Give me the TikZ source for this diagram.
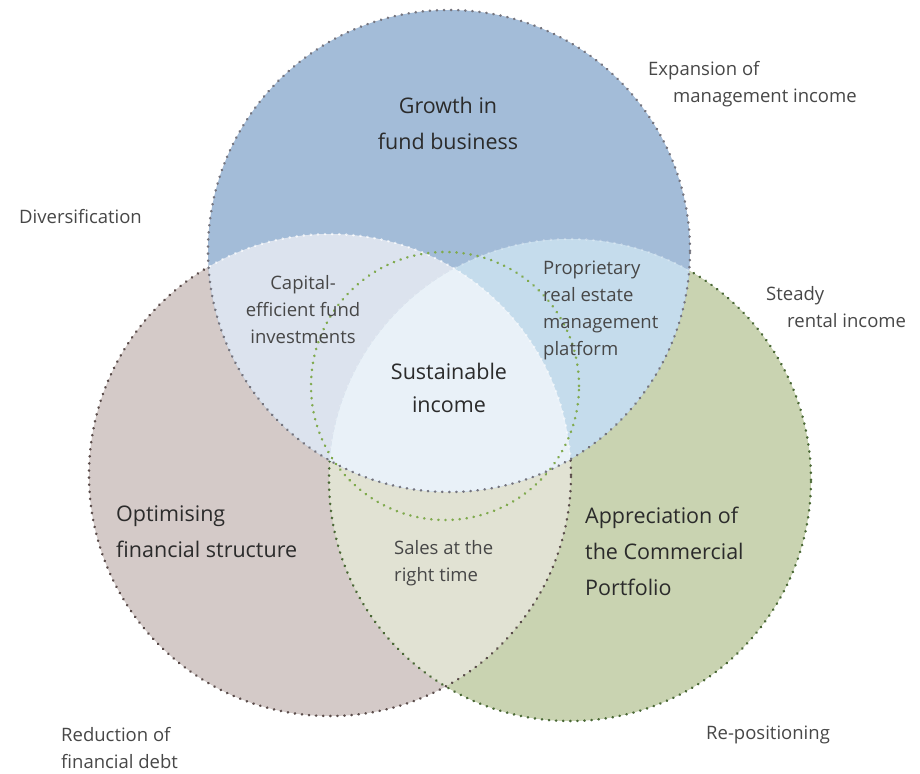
\documentclass[tikz,border=0pt]{standalone}
\usepackage{fontspec}
\setmainfont{Open Sans}
\definecolor{cTop}{HTML}{A3BCD8}
\definecolor{cLeft}{HTML}{D4CAC8}
\definecolor{cRight}{HTML}{C9D3B1}
\definecolor{cTL}{HTML}{DCE3EE}
\definecolor{cTR}{HTML}{C5DCEC}
\definecolor{cLR}{HTML}{E1E2D3}
\definecolor{cAll}{HTML}{E9F1F8}
\definecolor{bTop}{HTML}{74747E}
\definecolor{bLeft}{HTML}{5A4C4A}
\definecolor{bRight}{HTML}{4A6835}
\definecolor{bInner}{HTML}{80AA4E}
\definecolor{tHead}{HTML}{2B2B2B}
\definecolor{tBody}{HTML}{474747}
\begin{document}
\begin{tikzpicture}[x=1pt,y=-1pt,
  dotline/.style={line width=2.6pt,line cap=round,dash pattern=on 0.3pt off 6.8pt},
  head/.style={inner sep=0pt,text=tHead,font=\fontsize{21.5}{36}\selectfont},
  body/.style={inner sep=0pt,text=tBody,font=\fontsize{18.5}{27}\selectfont}]
\useasboundingbox (0,0) rectangle (920,773);
\def\circT{(449,251) circle[radius=241pt]}
\def\circL{(330,475) circle[radius=241pt]}
\def\circR{(570,480) circle[radius=241pt]}
\def\circI{(445,386) circle[radius=134pt]}
% lower circles
\fill[cLeft] \circL;
\fill[cRight] \circR;
\begin{scope}\clip \circL; \fill[cLR] \circR; \end{scope}
\draw[dotline,bLeft] \circL;
\draw[dotline,bRight] \circR;
% top circle and overlaps
\fill[cTop] \circT;
\begin{scope}
  \clip \circT;
  \fill[cTL] \circL;
  \fill[cTR] \circR;
  \draw[dotline,white,opacity=0.6] \circL;
  \draw[dotline,white,opacity=0.3] \circR;
  \clip \circL;
  \fill[cAll] \circR;
  \draw[dotline,white,opacity=0.6] \circL;
\end{scope}
\draw[dotline,bTop] \circT;
\draw[dotline,bInner] \circI;
% texts
\node[head,align=center] (growth) at (448,123) {Growth in\\fund business};
\node[head,align=center,font=\fontsize{21.5}{33}\selectfont] (sust) at (449,388) {Sustainable\\income};
\node[head,align=left,anchor=west] (optim) at (116,532) {Optimising\\financial structure};
\node[head,align=left,anchor=west] (appr) at (585,551) {Appreciation of\\the Commercial\\Portfolio};
\node[body,align=center] (capital) at (303,310) {Capital-\\efficient fund\\investments};
\node[body,align=left,anchor=west] (propr) at (543,310.5) {Proprietary\\real estate\\management\\platform};
\node[body,align=left,anchor=west] (sales) at (394,563.5) {Sales at the\\right time};
\node[body,align=left,anchor=west] (expan) at (648,84.5) {Expansion of\\\hspace*{25pt}management income};
\node[body,align=left,anchor=west] (divers) at (19,217) {Diversification};
\node[body,align=left,anchor=west] (steady) at (766,307.5) {Steady\\\hspace*{21pt}rental income};
\node[body,align=left,anchor=west] (reduc) at (61,748) {Reduction of\\financial debt};
\node[body,align=left,anchor=west] (repos) at (706,735) {Re-positioning};
\end{tikzpicture}
\end{document}
